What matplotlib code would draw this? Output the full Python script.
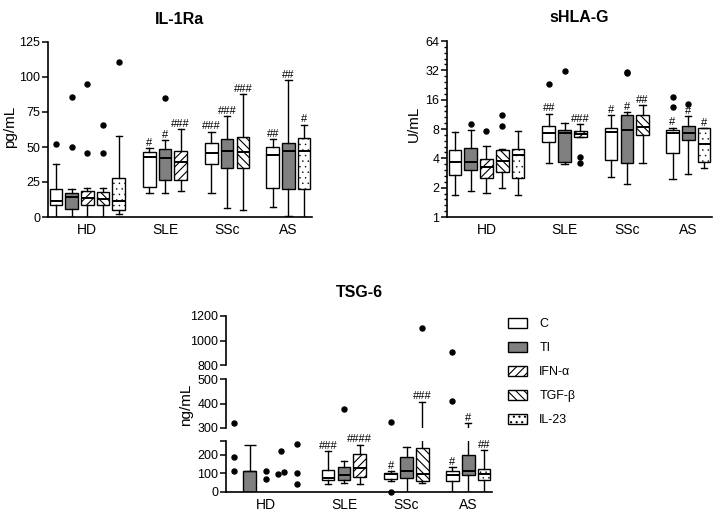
import matplotlib
matplotlib.use("Agg")
import matplotlib.pyplot as plt
import numpy as np
from matplotlib.patches import Patch

plt.rcParams["font.family"] = ["Liberation Sans", "DejaVu Sans"]
plt.rcParams["hatch.linewidth"] = 0.8

# ---------------------------------------------------------------------------
# Data
# ---------------------------------------------------------------------------
GROUPS = ["HD", "SLE", "SSc", "AS"]
CONDITIONS = ["C", "TI", "IFN-α", "TGF-β", "IL-23"]

# IL-1Ra (pg/mL)
il1_group = ["HD", "HD", "HD", "HD", "HD", "SLE", "SLE", "SLE",
             "SSc", "SSc", "SSc", "AS", "AS", "AS"]
il1_cond = ["C", "TI", "IFN-α", "TGF-β", "IL-23", "C", "TI", "IFN-α",
            "C", "TI", "TGF-β", "C", "TI", "IL-23"]
il1_whislo = [0, 0, 0, 0, 2.4, 16.8, 16.8, 18.6, 17.2, 6.7, 5.3, 7.2, 0.5, 0]
il1_q1 = [8.4, 5.5, 8.4, 8.4, 4.8, 21.5, 26.3, 26.3, 37.5, 34.7, 34.7, 20.8, 20.3, 19.8]
il1_med = [11.5, 14.3, 13.5, 13.0, 11.5, 42.6, 41.8, 39.4, 45.4, 47.3, 46.4, 44.5, 47.3, 47.3]
il1_q3 = [20.3, 17.2, 18.6, 17.9, 28.0, 46.1, 48.8, 47.3, 53.0, 55.5, 57.3, 50.0, 52.6, 56.2]
il1_whishi = [37.8, 20.1, 21.0, 21.0, 57.8, 49.0, 55.0, 62.6, 61.0, 72.2, 88.0, 55.5, 97.5, 66.0]
il1_fliers = [[52], [86, 50.2], [95, 45.9], [66, 45.9], [111], [], [85], [],
              [], [], [], [], [], []]
il1_sig = ["", "", "", "", "", "#", "#", "###", "###", "###", "###", "##", "##", "#"]

# sHLA-G (U/mL)
hla_group = il1_group
hla_cond = il1_cond
hla_whislo = [1.67, 1.85, 1.76, 1.98, 1.67, 3.58, 3.53, 6.6, 2.6, 2.16, 3.58, 2.47, 2.74, 3.2]
hla_q1 = [2.72, 3.07, 2.54, 2.92, 2.54, 5.88, 3.7, 6.7, 3.88, 3.58, 7.0, 4.57, 6.2, 3.7]
hla_med = [3.67, 3.7, 3.26, 3.73, 4.37, 7.35, 7.2, 7.1, 7.4, 7.75, 8.4, 7.2, 7.3, 5.57]
hla_q3 = [4.84, 5.1, 3.98, 4.92, 4.99, 8.5, 7.9, 7.6, 8.1, 11.1, 11.1, 7.87, 8.6, 8.1]
hla_whishi = [7.45, 7.9, 5.3, 4.98, 7.6, 11.5, 9.2, 8.9, 11.1, 11.9, 14.1, 8.25, 10.9, 8.1]
hla_fliers = [[], [8.9], [7.6], [8.6, 11.1], [], [22.9], [31.5], [3.6, 4.1],
              [], [30.1, 31.0], [], [17.1, 13.5], [14.3], []]
hla_sig = ["", "", "", "", "", "##", "", "###", "#", "#", "##", "#", "#", "#"]

# TSG-6 (ng/mL), boxes for patient groups
tsg_group = ["SLE", "SLE", "SLE", "SSc", "SSc", "SSc", "AS", "AS", "AS"]
tsg_cond = ["C", "TI", "IFN-α", "C", "TI", "TGF-β", "C", "TI", "IL-23"]
tsg_whislo = [41, 48, 45, 58, 0, 51, 0, 0, 0]
tsg_q1 = [63, 67, 82, 71, 76, 60, 62, 89, 65]
tsg_med = [78, 93, 131, 96, 115, 95, 89, 115, 95]
tsg_q3 = [120, 133, 205, 105, 187, 235, 115, 200, 125]
tsg_whishi = [220, 167, 256, 113, 242, 408, 136, 320, 225]
tsg_fliers = [[], [378], [], [323, 0], [], [1100], [411, 903], [], []]
tsg_sig = ["###", "", "####", "#", "", "###", "#", "#", "##"]

# TSG-6 healthy donors: individual values
tsg_hd_cond = ["C", "C", "C", "IFN-α", "IFN-α", "TGF-β", "TGF-β", "TGF-β",
               "IL-23", "IL-23", "IL-23"]
tsg_hd_vals = [320, 191, 113, 115, 69, 97, 219, 109, 259, 100, 44]
tsg_hd_jitter = [0, 0, 0, 0, 0, -0.2, 0, 0.15, 0, 0, 0]
# TSG-6 healthy donors, TI: mean + SD
tsg_hd_ti_mean = 115
tsg_hd_ti_sd = 136

# ---------------------------------------------------------------------------
# Styling / layout
# ---------------------------------------------------------------------------
W, H = 719, 515
GROUP_START = {"HD": 0.5, "SLE": 6.45, "SSc": 10.4, "AS": 14.3}
GROUP_CENTER = {"HD": 2.5, "SLE": 7.45, "SSc": 11.4, "AS": 15.3}
HD_SLOT = {c: i for i, c in enumerate(CONDITIONS)}
XLIM = (0, 16.8)
BOX_W = 0.8
GRAY = "#808080"
STYLE = {
    "C": dict(facecolor="white", hatch=None),
    "TI": dict(facecolor=GRAY, hatch=None),
    "IFN-α": dict(facecolor="white", hatch="////"),
    "TGF-β": dict(facecolor="white", hatch="\\\\\\\\"),
    "IL-23": dict(facecolor="white", hatch="..."),
}
TICK_FS = 9
GROUP_FS = 10
TITLE_FS = 11.5
LABEL_FS = 11
SIG_FS = 8
LW = 1.0


def rect(left, top, right, bottom):
    return [left / W, 1 - bottom / H, (right - left) / W, (bottom - top) / H]


def positions(groups, conds):
    pos, slot = [], {}
    for g, c in zip(groups, conds):
        if g == "HD":
            pos.append(GROUP_START[g] + HD_SLOT[c])
        else:
            k = slot.get(g, 0)
            pos.append(GROUP_START[g] + k)
            slot[g] = k + 1
    return pos


def set_hatch(patch, cond):
    h = STYLE[cond]["hatch"]
    if not h:
        return
    patch.set_hatch(h)
    if h.startswith("."):
        # lighter dots, as in the original
        try:
            patch.set_hatch_linewidth(0.3)
        except AttributeError:
            pass


def draw_boxes(ax, pos, conds, wlo, q1, med, q3, whi):
    stats = [dict(whislo=a, q1=b, med=c, q3=d, whishi=e, fliers=[])
             for a, b, c, d, e in zip(wlo, q1, med, q3, whi)]
    bp = ax.bxp(stats, positions=pos, widths=BOX_W, capwidths=0.4,
                showfliers=False, patch_artist=True,
                boxprops=dict(linewidth=LW, edgecolor="black"),
                whiskerprops=dict(linewidth=LW, color="black"),
                capprops=dict(linewidth=LW, color="black"),
                medianprops=dict(linewidth=1.4, color="black"))
    for box, c in zip(bp["boxes"], conds):
        box.set_facecolor(STYLE[c]["facecolor"])
        set_hatch(box, c)
    return bp


def draw_points(ax, xs, ys):
    lo, hi = ax.get_ylim()
    px = [x for x, y in zip(xs, ys) if lo <= y <= hi]
    py = [y for y in ys if lo <= y <= hi]
    ax.plot(px, py, "o", color="black", markersize=3.6, clip_on=False,
            linestyle="none")


def draw_fliers(ax, pos, fliers):
    xs, ys = [], []
    for p, fl in zip(pos, fliers):
        for v in fl:
            xs.append(p)
            ys.append(v)
    draw_points(ax, xs, ys)


def draw_sig(ax, pos, whi, sig):
    lo, hi = ax.get_ylim()
    for p, w, s in zip(pos, whi, sig):
        if s and lo <= w <= hi:
            ax.annotate(s, (p, w), xytext=(0, 0.2), textcoords="offset points",
                        ha="center", va="bottom", fontsize=SIG_FS)


def style_axis(ax, show_x=True):
    for side in ("top", "right"):
        ax.spines[side].set_visible(False)
    for side in ("left", "bottom"):
        ax.spines[side].set_linewidth(1.2)
    ax.tick_params(axis="y", direction="out", length=4, width=1.1,
                   labelsize=TICK_FS, pad=1.5)
    ax.set_xlim(*XLIM)
    if show_x:
        ax.set_xticks([GROUP_CENTER[g] for g in GROUPS])
        ax.set_xticklabels(GROUPS, fontsize=GROUP_FS)
        ax.tick_params(axis="x", length=0, pad=4)
    else:
        ax.spines["bottom"].set_visible(False)
        ax.set_xticks([])
    ax.set_facecolor("none")


fig = plt.figure(figsize=(W / 100, H / 100), dpi=100)

# ---- IL-1Ra ---------------------------------------------------------------
ax1 = fig.add_axes(rect(48, 42, 312, 217))
pos1 = positions(il1_group, il1_cond)
ax1.set_ylim(0, 125)
draw_boxes(ax1, pos1, il1_cond, il1_whislo, il1_q1, il1_med, il1_q3, il1_whishi)
draw_fliers(ax1, pos1, il1_fliers)
draw_sig(ax1, pos1, il1_whishi, il1_sig)
ax1.set_yticks([0, 25, 50, 75, 100, 125])
style_axis(ax1)
ax1.set_title("IL-1Ra", fontsize=TITLE_FS, fontweight="bold", pad=13)
fig.text(10 / W, 1 - 127 / H, "pg/mL", rotation=90, ha="center", va="center",
         fontsize=LABEL_FS)

# ---- sHLA-G ---------------------------------------------------------------
ax2 = fig.add_axes(rect(447, 41, 712, 217))
pos2 = positions(hla_group, hla_cond)
ax2.set_yscale("log", base=2)
ax2.set_ylim(1, 64)
draw_boxes(ax2, pos2, hla_cond, hla_whislo, hla_q1, hla_med, hla_q3, hla_whishi)
draw_fliers(ax2, pos2, hla_fliers)
draw_sig(ax2, pos2, hla_whishi, hla_sig)
majors = [1, 2, 4, 8, 16, 32, 64]
ax2.set_yticks(majors)
ax2.set_yticklabels([str(m) for m in majors])
ax2.set_yticks([2 ** (k + i / 5) for k in range(6) for i in range(1, 5)],
               minor=True)
ax2.yaxis.set_minor_formatter(matplotlib.ticker.NullFormatter())
style_axis(ax2)
ax2.tick_params(axis="y", which="minor", length=2.5, width=1.0)
ax2.set_title("sHLA-G", fontsize=TITLE_FS, fontweight="bold", pad=14)
fig.text(414 / W, 1 - 124 / H, "U/mL", rotation=90, ha="center", va="center",
         fontsize=LABEL_FS)

# ---- TSG-6 (broken y axis) --------------------------------------------------
seg_top = fig.add_axes(rect(226, 316, 492, 365))
seg_mid = fig.add_axes(rect(226, 379, 492, 428))
seg_bot = fig.add_axes(rect(226, 441, 492, 492))
seg_top.set_ylim(800, 1200)
seg_mid.set_ylim(300, 500)
seg_bot.set_ylim(0, 275)
pos3 = positions(tsg_group, tsg_cond)
hd_x = [GROUP_START["HD"] + HD_SLOT[c] + j for c, j in zip(tsg_hd_cond, tsg_hd_jitter)]
for ax in (seg_top, seg_mid, seg_bot):
    draw_boxes(ax, pos3, tsg_cond, tsg_whislo, tsg_q1, tsg_med, tsg_q3, tsg_whishi)
    ti_x = GROUP_START["HD"] + HD_SLOT["TI"]
    ax.bar(ti_x, tsg_hd_ti_mean, width=BOX_W, color=GRAY, edgecolor="black",
           linewidth=LW)
    ax.errorbar(ti_x, tsg_hd_ti_mean, yerr=[[0], [tsg_hd_ti_sd]], fmt="none",
                ecolor="black", elinewidth=LW, capsize=4, capthick=LW)
    draw_fliers(ax, pos3, tsg_fliers)
    draw_points(ax, hd_x, tsg_hd_vals)
    draw_sig(ax, pos3, tsg_whishi, tsg_sig)
seg_top.set_yticks([800, 1000, 1200])
seg_mid.set_yticks([300, 400, 500])
seg_bot.set_yticks([0, 100, 200, 275])
seg_bot.set_yticklabels(["0", "100", "200", ""])
style_axis(seg_top, show_x=False)
style_axis(seg_mid, show_x=False)
style_axis(seg_bot)
seg_top.set_title("TSG-6", fontsize=TITLE_FS, fontweight="bold", pad=14)
fig.text(186 / W, 1 - 405 / H, "ng/mL", rotation=90, ha="center", va="center",
         fontsize=LABEL_FS)

# ---- Legend ---------------------------------------------------------------
handles = []
for c in CONDITIONS:
    p = Patch(facecolor=STYLE[c]["facecolor"], edgecolor="black", linewidth=LW)
    set_hatch(p, c)
    handles.append(p)
fig.legend(handles, CONDITIONS, loc="upper left",
           bbox_to_anchor=(508 / W, 1 - 318 / H), frameon=False, fontsize=9,
           handlelength=1.5, handleheight=0.8, labelspacing=0.95,
           handletextpad=1.0, borderaxespad=0, borderpad=0)

fig.savefig("out.png", dpi=100)
